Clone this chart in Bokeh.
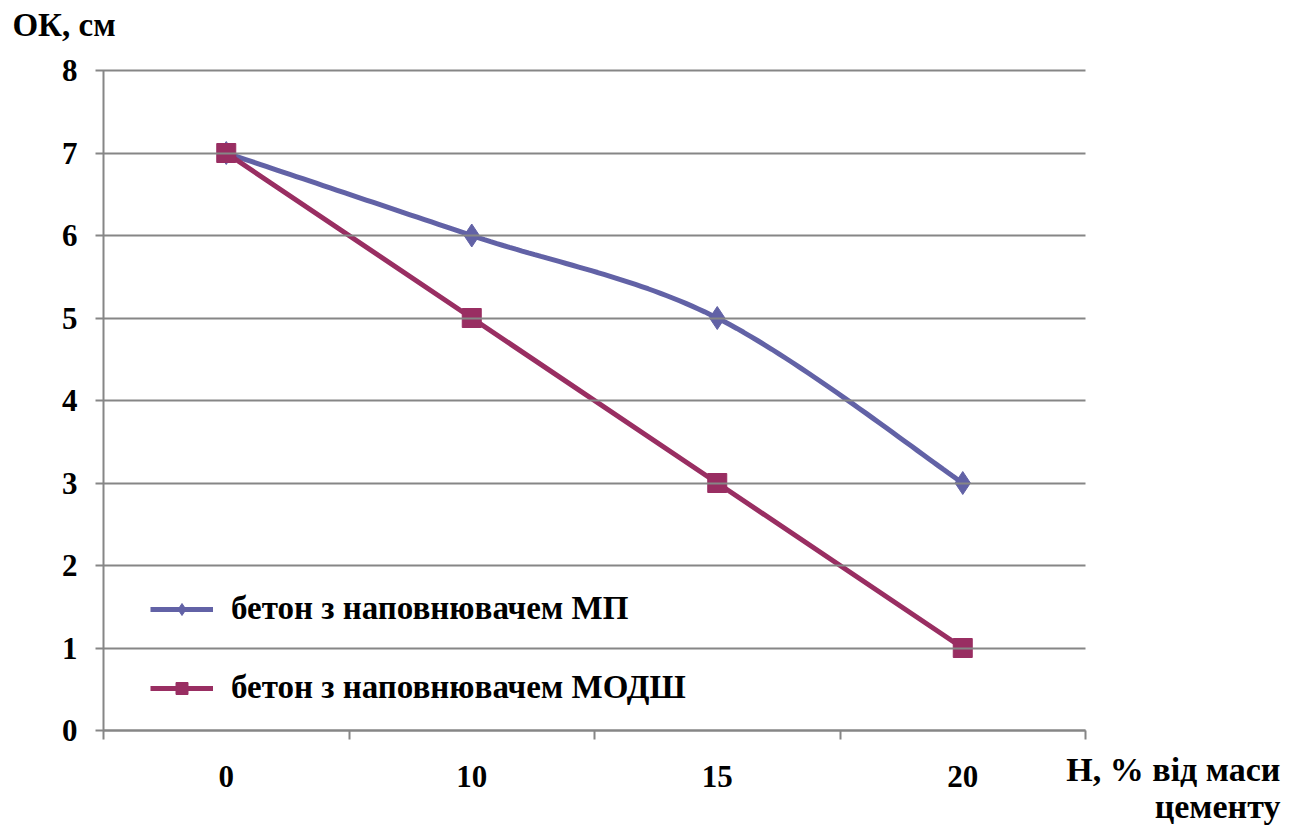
import numpy as np
from bokeh.plotting import figure
from bokeh.models import Range1d, FixedTicker, Label, Legend, LegendItem
from bokeh.embed import file_html
from bokeh.resources import INLINE

# Filler content, % of cement mass
categories = ["0", "10", "15", "20"]
# Cone slump, cm
slump_mp = [7, 6, 5, 3]
slump_modsh = [7, 5, 3, 1]
y_ticks = [0, 1, 2, 3, 4, 5, 6, 7, 8]

FONT = "Liberation Serif"
GRID = "#868686"
BLUE = "#6262A6"
PURPLE = "#992E62"

W, H = 1298, 827
# plotting area inside the canvas (pixels)
LEFT, RIGHT, TOP, BOTTOM = 103, 1085, 70, 730
n_cat = len(categories)
y_max = y_ticks[-1]
px_x = (RIGHT - LEFT) / n_cat
px_y = (BOTTOM - TOP) / y_max

xs = [i + 0.5 for i in range(n_cat)]


def smooth(x, y, n=40):
    """Catmull-Rom style smoothing through the points (end points repeated)."""
    pts = np.column_stack([x, y]).astype(float)
    ext = np.vstack([pts[0], pts, pts[-1]])
    out = [pts[0]]
    t = np.linspace(0, 1, n)[1:]
    for i in range(1, len(ext) - 2):
        p0, p1, p2, p3 = ext[i - 1], ext[i], ext[i + 1], ext[i + 2]
        c1 = p1 + (p2 - p0) / 6.0
        c2 = p2 - (p3 - p1) / 6.0
        for tt in t:
            b = ((1 - tt) ** 3) * p1 + 3 * ((1 - tt) ** 2) * tt * c1 \
                + 3 * (1 - tt) * tt ** 2 * c2 + tt ** 3 * p2
            out.append(b)
    out = np.array(out)
    return out[:, 0], out[:, 1]


# the frame covers the whole canvas; axes sit at fixed data locations
p = figure(width=W, height=H, output_backend="svg", toolbar_location=None,
           x_range=Range1d(-LEFT / px_x, (W - LEFT) / px_x),
           y_range=Range1d(-(H - BOTTOM) / px_y, BOTTOM / px_y),
           min_border=0)
p.outline_line_color = None
p.background_fill_color = "white"
p.border_fill_color = "white"
p.xgrid.grid_line_color = None
p.ygrid.grid_line_color = None

# y axis, its inward ticks span the chart as horizontal grid lines
p.yaxis.fixed_location = 0
p.yaxis.bounds = (0, y_max)
p.yaxis.ticker = FixedTicker(ticks=y_ticks, minor_ticks=[])
p.yaxis.axis_line_color = GRID
p.yaxis.axis_line_width = 2
p.yaxis.major_tick_line_color = GRID
p.yaxis.major_tick_line_width = 2
p.yaxis.major_tick_out = 8
p.yaxis.major_tick_in = int(round(RIGHT - LEFT))
p.yaxis.major_label_standoff = 18
p.yaxis.major_label_text_font = FONT
p.yaxis.major_label_text_font_style = "bold"
p.yaxis.major_label_text_font_size = "31px"
p.yaxis.major_label_text_color = "black"

# x axis: labels at category centres, tick marks on category boundaries
p.xaxis.fixed_location = 0
p.xaxis.bounds = (0, n_cat)
p.xaxis.ticker = FixedTicker(ticks=xs, minor_ticks=list(range(n_cat + 1)))
p.xaxis.major_label_overrides = {x: c for x, c in zip(xs, categories)}
p.xaxis.axis_line_color = GRID
p.xaxis.axis_line_width = 2
p.xaxis.major_tick_out = 0
p.xaxis.major_tick_in = 0
p.xaxis.minor_tick_line_color = GRID
p.xaxis.minor_tick_line_width = 2
p.xaxis.minor_tick_out = 9
p.xaxis.minor_tick_in = 0
p.xaxis.major_label_standoff = 26
p.xaxis.major_label_text_font = FONT
p.xaxis.major_label_text_font_style = "bold"
p.xaxis.major_label_text_font_size = "31px"
p.xaxis.major_label_text_color = "black"

# series
sx, sy = smooth(xs, slump_mp)
r_mp_line = p.line(sx, sy, line_color=BLUE, line_width=5)
p.scatter(xs, slump_mp, marker="diamond", size=23, fill_color=BLUE,
          line_color=BLUE)
r_mo_line = p.line(xs, slump_modsh, line_color=PURPLE, line_width=5)
p.scatter(xs, slump_modsh, marker="square", size=19, fill_color=PURPLE,
          line_color=PURPLE)

# legend glyphs (small markers)
lg_mp_pts = p.scatter([np.nan], [np.nan], marker="diamond", size=12,
                      fill_color=BLUE, line_color=BLUE)
lg_mo_pts = p.scatter([np.nan], [np.nan], marker="square", size=16,
                      fill_color=PURPLE, line_color=PURPLE)

legend = Legend(items=[
    LegendItem(label="бетон з наповнювачем МП", renderers=[r_mp_line, lg_mp_pts]),
    LegendItem(label="бетон з наповнювачем МОДШ", renderers=[r_mo_line, lg_mo_pts]),
], location=(LEFT + 47, (H - BOTTOM) + 24))
legend.background_fill_alpha = 0
legend.border_line_alpha = 0
legend.padding = 0
legend.margin = 0
legend.glyph_width = 63
legend.glyph_height = 30
legend.label_height = 30
legend.spacing = 42
legend.label_standoff = 18
legend.label_text_font = FONT
legend.label_text_font_style = "bold"
legend.label_text_font_size = "33px"
legend.label_text_color = "black"
p.add_layout(legend, "center")

# axis titles
title_kw = dict(text_font=FONT, text_font_style="bold", text_color="black",
                text_baseline="alphabetic")
p.add_layout(Label(x=-0.371, y=8.555, text="ОК, см", text_align="left",
                   text_font_size="33px", **title_kw))
p.add_layout(Label(x=4.794, y=-0.475, text="Н, % від маси", text_align="right",
                   text_font_size="34px", **title_kw))
p.add_layout(Label(x=4.794, y=-0.925, text="цементу", text_align="right",
                   text_font_size="34px", **title_kw))

open("out.html", "w").write(file_html(p, INLINE))
